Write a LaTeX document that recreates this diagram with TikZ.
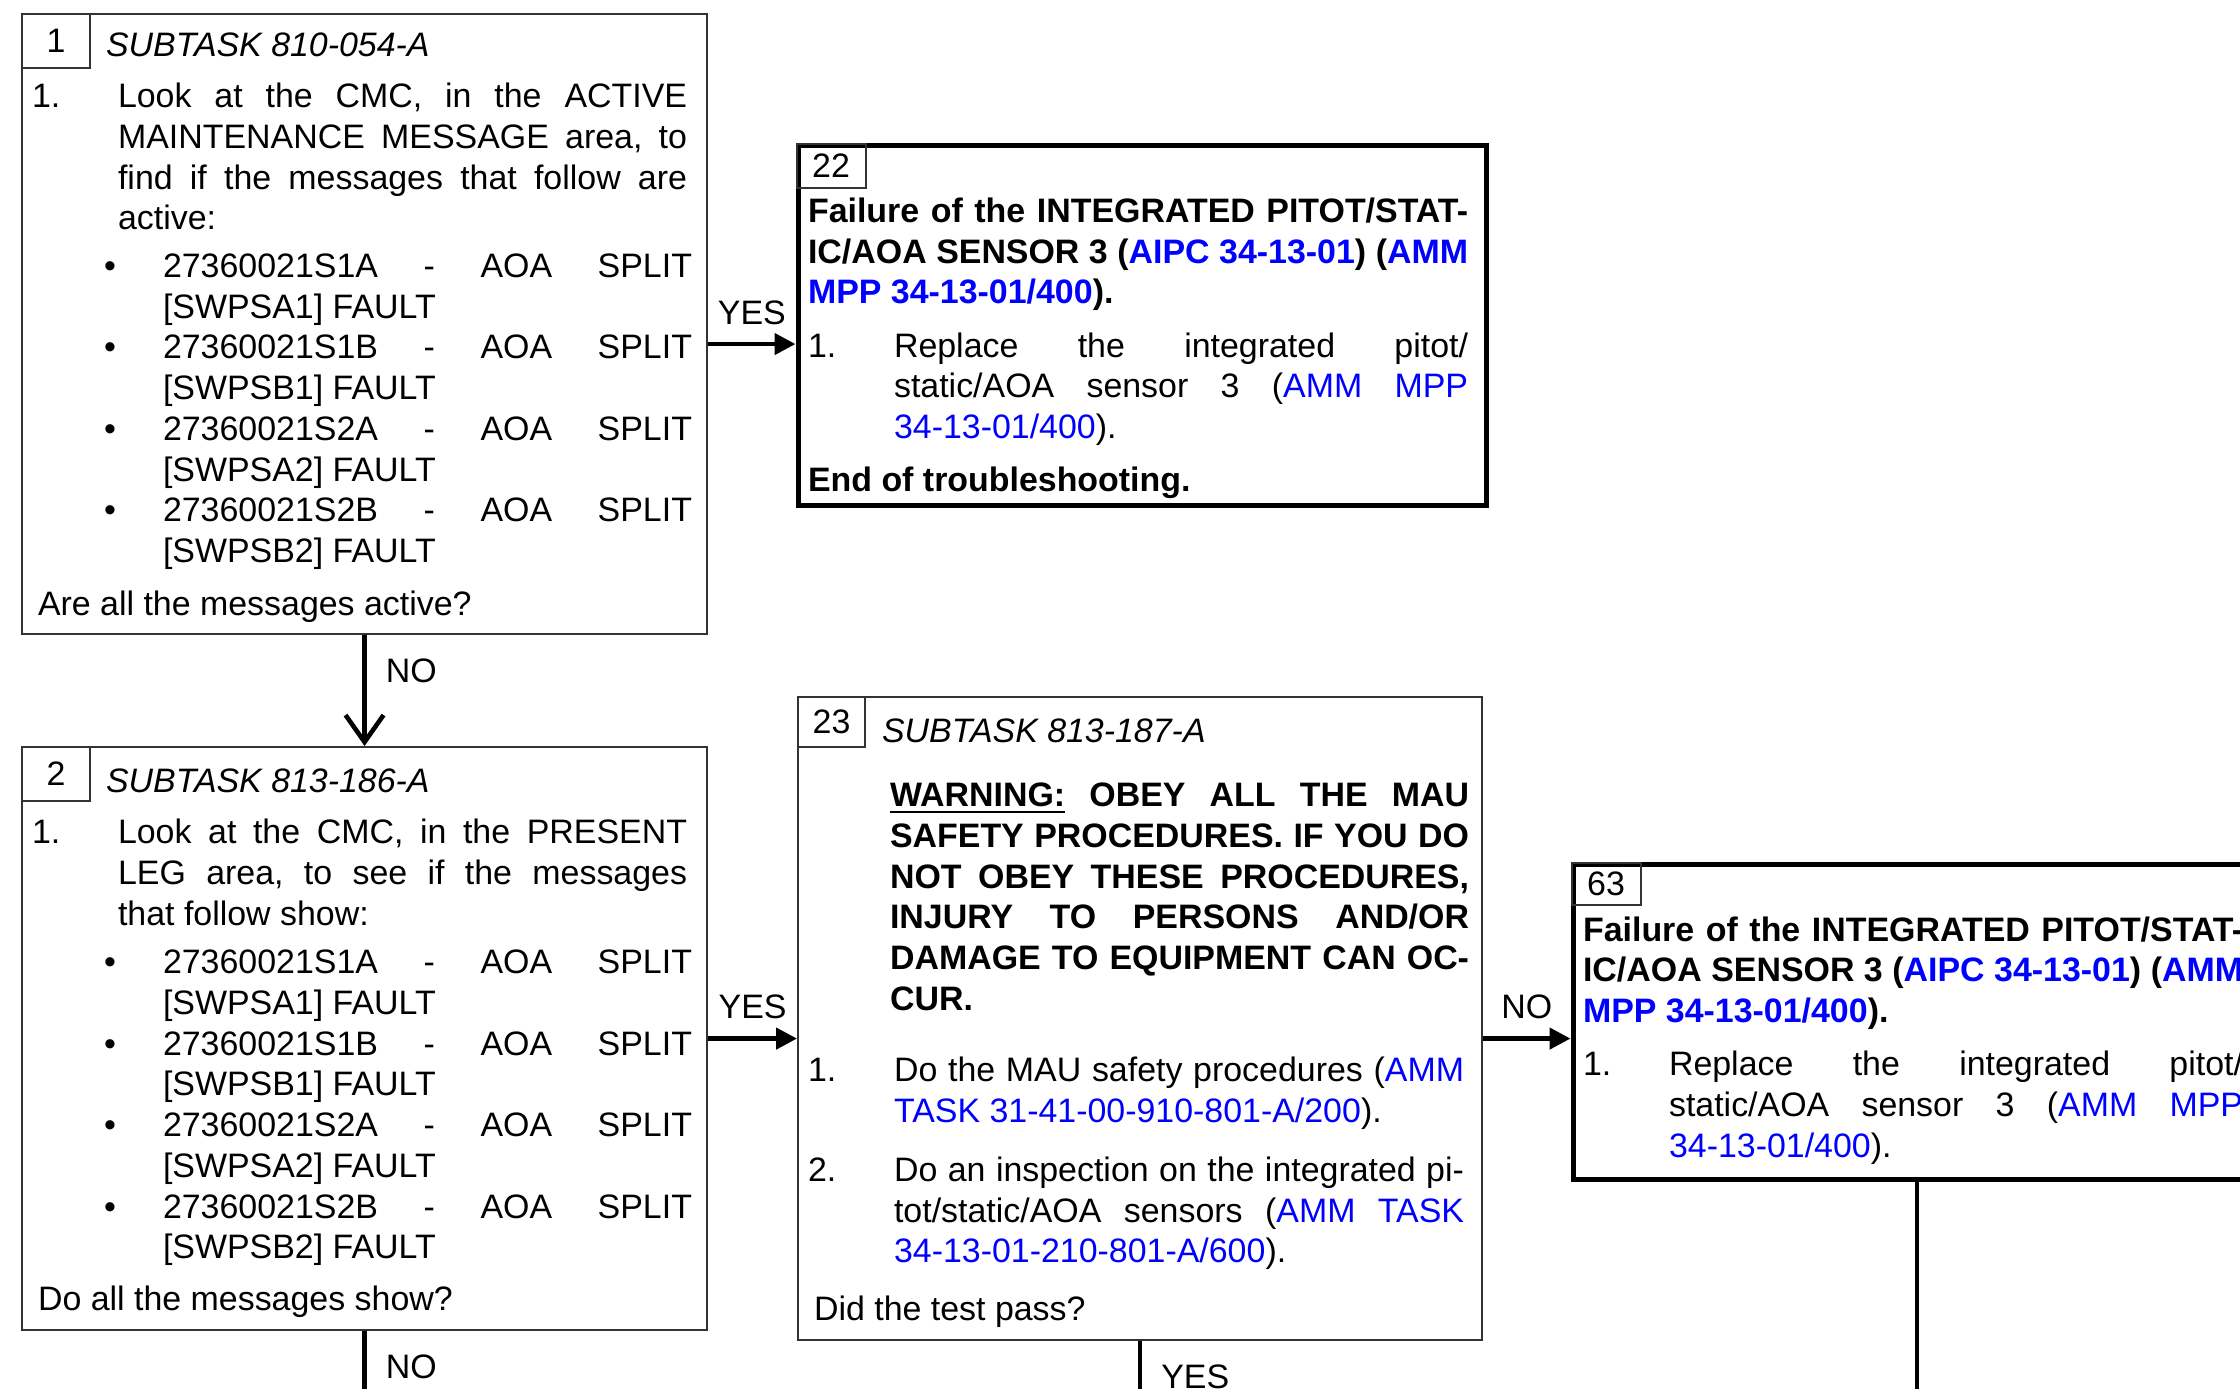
\documentclass[tikz,border=0pt]{standalone}
\usepackage{fontspec}
\setmainfont{Liberation Sans}
\usepackage{tikz}
\usetikzlibrary{arrows.meta, positioning, calc}

\definecolor{linkblue}{RGB}{0,0,255}
\tolerance=10000
\hbadness=10000
\hyphenpenalty=10000
\exhyphenpenalty=10000
\frenchspacing

\newcommand{\stepfont}{\fontsize{9.65pt}{11.58pt}\selectfont}
\newcommand{\brk}{\linebreak[4]}
\newcommand{\lnk}[1]{\textcolor{linkblue}{#1}}
\newcommand{\subtask}[1]{\noindent\hspace*{0.74cm}\textit{#1}\par}
\newcommand{\stepitem}[3][0.08cm]{\par\noindent\leftskip=0pt\rightskip=#1\hangindent=0.86cm\hangafter=1
  \makebox[0.86cm][l]{#2}#3\par}
\newcommand{\msgitem}[1]{\par\noindent\leftskip=0pt\rightskip=0.05cm\hangindent=1.31cm\hangafter=1
  \hspace*{0.72cm}\makebox[0.59cm][l]{\textbullet}#1\par}
\newcommand{\question}[1]{\par\noindent\leftskip=0pt\rightskip=0pt\hspace*{0.06cm}#1\par}
\newcommand{\warning}[1]{\par\noindent\leftskip=0.82cm\rightskip=0.03cm
  \textbf{\underline{WARNING:} #1}\par}

\begin{document}
\begin{tikzpicture}[
    stepbox/.style={rectangle, draw=black!80, line width=0.6pt, anchor=north west, inner xsep=0.10cm, inner ysep=0pt,
      font=\stepfont, align=justify, execute at begin node={\spaceskip=0pt\xspaceskip=0pt}},
    endbox/.style={stepbox, draw=black, line width=1.45pt},
    numbox/.style={rectangle, draw=black!80, line width=0.6pt, anchor=north west, minimum width=0.68cm, inner sep=0pt, font=\stepfont},
    link/.style={line width=1.3pt},
    flow/.style={link, -{Triangle[length=0.21cm, width=0.21cm]}},
    lbl/.style={inner sep=0pt, font=\stepfont}]

    \useasboundingbox (0,0) rectangle (22.4,-13.88);
    \clip (0,0) rectangle (22.4,-13.88);

    \node[stepbox, text width=6.65cm, text height=0.42cm, text depth=5.78cm] (S1) at (0.21,-0.13) {%
        \subtask{SUBTASK 810-054-A}
        \vspace{0.11cm}
        \stepitem[0.10cm]{1.}{Look at the CMC, in the ACTIVE\brk MAINTENANCE MESSAGE area, to\brk find if the messages that follow are\brk active:}
        \vspace{0.07cm}
        \msgitem{27360021S1A - AOA SPLIT\brk [SWPSA1] FAULT}
        \msgitem{27360021S1B - AOA SPLIT\brk [SWPSB1] FAULT}
        \msgitem{27360021S2A - AOA SPLIT\brk [SWPSA2] FAULT}
        \msgitem{27360021S2B - AOA SPLIT\brk [SWPSB2] FAULT}
        \vspace{0.12cm}
        \question{Are all the messages active?}};
    \node[numbox, minimum height=0.54cm] (N1) at (S1.north west) {1};

    \node[stepbox, text width=6.65cm, text height=0.45cm, text depth=5.38cm] (S2) at (0.21,-7.46) {%
        \subtask{SUBTASK 813-186-A}
        \vspace{0.11cm}
        \stepitem[0.10cm]{1.}{Look at the CMC, in the PRESENT\brk LEG area, to see if the messages\brk that follow show:}
        \vspace{0.08cm}
        \msgitem{27360021S1A - AOA SPLIT\brk [SWPSA1] FAULT}
        \msgitem{27360021S1B - AOA SPLIT\brk [SWPSB1] FAULT}
        \msgitem{27360021S2A - AOA SPLIT\brk [SWPSA2] FAULT}
        \msgitem{27360021S2B - AOA SPLIT\brk [SWPSB2] FAULT}
        \vspace{0.11cm}
        \question{Do all the messages show?}};
    \node[numbox, minimum height=0.54cm] (N2) at (S2.north west) {2};

    \node[endbox, text width=6.68cm, text height=0.775cm, text depth=2.825cm] (S22) at (7.955,-1.425) {%
        \noindent\rightskip=0.08cm \textbf{Failure of the INTEGRATED PITOT/STAT-\brk IC/AOA SENSOR 3 (\lnk{AIPC 34-13-01}) (\lnk{AMM\brk MPP 34-13-01/400}).}\par
        \vspace{0.125cm}
        \stepitem{1.}{Replace the integrated pitot/\brk static/AOA sensor 3 (\lnk{AMM MPP\brk 34-13-01/400}).}
        \vspace{0.12cm}
        \noindent\rightskip=0pt \textbf{End of troubleshooting.}\par};
    \node[numbox, minimum height=0.44cm, minimum width=0.69cm] (N22) at (S22.north west) {22};

    \node[stepbox, text width=6.64cm, text height=0.45cm, text depth=5.98cm] (S23) at (7.97,-6.96) {%
        \subtask{SUBTASK 813-187-A}
        \vspace{0.24cm}
        \warning{OBEY ALL THE MAU\brk SAFETY PROCEDURES. IF YOU DO\brk NOT OBEY THESE PROCEDURES,\brk INJURY TO PERSONS AND/OR\brk DAMAGE TO EQUIPMENT CAN OC-\brk CUR.}
        \vspace{0.31cm}
        \stepitem{1.}{Do the MAU safety procedures (\lnk{AMM\brk TASK 31-41-00-910-801-A/200}).}
        \vspace{0.18cm}
        \stepitem{2.}{Do an inspection on the integrated pi-\brk tot/static/AOA sensors (\lnk{AMM TASK\brk 34-13-01-210-801-A/600}).}
        \vspace{0.17cm}
        \question{Did the test pass?}};
    \node[numbox, minimum height=0.50cm, minimum width=0.67cm] (N23) at (S23.north west) {23};

    \node[endbox, text width=6.68cm, text height=0.77cm, text depth=2.385cm] (S63) at (15.705,-8.615) {%
        \noindent\rightskip=0.08cm \textbf{Failure of the INTEGRATED PITOT/STAT-\brk IC/AOA SENSOR 3 (\lnk{AIPC 34-13-01}) (\lnk{AMM\brk MPP 34-13-01/400}).}\par
        \vspace{0.125cm}
        \stepitem{1.}{Replace the integrated pitot/\brk static/AOA sensor 3 (\lnk{AMM MPP\brk 34-13-01/400}).}};
    \node[numbox, minimum height=0.42cm, minimum width=0.69cm] (N63) at (S63.north west) {63};

    \coordinate (E22) at ([yshift=-0.19cm]S22.west);
    \coordinate (O2) at ([yshift=-0.8cm]S2.south);
    \coordinate (O23) at ([yshift=-0.8cm]S23.south);
    \coordinate (O63) at ([yshift=-2.4cm]S63.south);

    \draw[link, -{Straight Barb[length=0.27cm, width=0.38cm]}] (S1) -- (S2) node[lbl, pos=0.32, anchor=west, xshift=0.19cm] {NO};
    \draw[flow] (S1.east |- E22) -- (E22) node[lbl, midway, above=0.17cm] {YES};
    \draw[flow] (S2.east) -- (S2.east -| S23.west) node[lbl, midway, above=0.17cm] {YES};
    \draw[flow] (S23.east |- S2.east) -- (S2.east -| S63.west) node[lbl, midway, above=0.17cm] {NO};
    \draw[link] (S2.south) -- (O2) node[lbl, pos=0.45, anchor=west, xshift=0.19cm] {NO};
    \draw[link] (S23.south) -- (O23) node[lbl, pos=0.45, anchor=west, xshift=0.19cm] {YES};
    \draw[link] (S63.south) -- (O63);
\end{tikzpicture}
\end{document}
